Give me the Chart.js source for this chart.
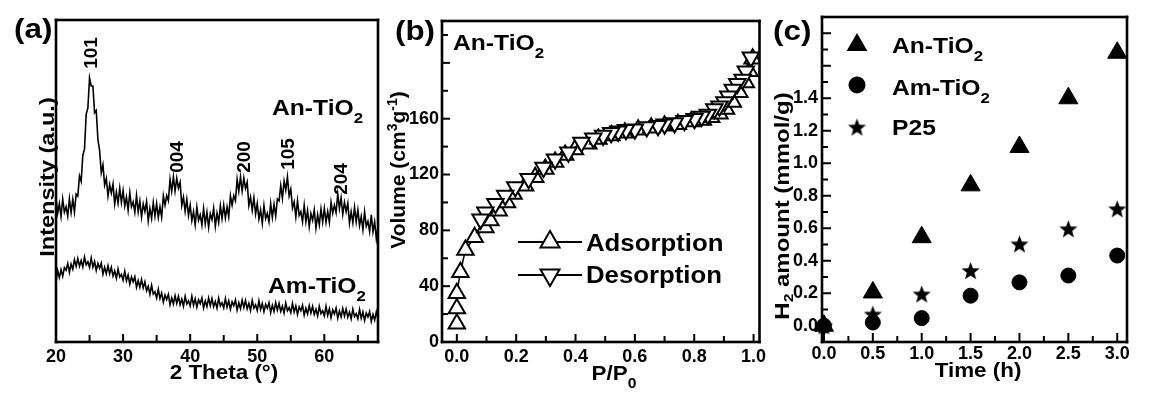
<!DOCTYPE html>
<html><head><meta charset="utf-8">
<script src="https://cdn.jsdelivr.net/npm/chart.js@4.4.0/dist/chart.umd.min.js"></script>
<style>
html,body{margin:0;padding:0;background:#fff;width:1152px;height:394px;overflow:hidden}
canvas{position:absolute;top:0}
#ca{left:0px}
#cb{left:384px}
#cc{left:771px}
</style></head><body>
<canvas id="ca" width="384" height="394"></canvas>
<canvas id="cb" width="387" height="394"></canvas>
<canvas id="cc" width="381" height="394"></canvas>
<script>
// ---------- DATA ----------
// (a) XRD, 2-theta in degrees
const theta = [20,20.25,20.5,20.75,21,21.25,21.5,21.75,22,22.25,22.5,22.75,23,23.25,23.5,23.75,24,24.25,24.5,24.75,
  25,25.25,25.5,25.75,26,26.25,26.5,26.75,27,27.25,27.5,27.75,28,28.25,28.5,28.75,29,29.25,29.5,29.75,
  30,30.25,30.5,30.75,31,31.25,31.5,31.75,32,32.25,32.5,32.75,33,33.25,33.5,33.75,34,34.25,34.5,34.75,
  35,35.25,35.5,35.75,36,36.25,36.5,36.75,37,37.25,37.5,37.75,38,38.25,38.5,38.75,39,39.25,39.5,39.75,
  40,40.25,40.5,40.75,41,41.25,41.5,41.75,42,42.25,42.5,42.75,43,43.25,43.5,43.75,44,44.25,44.5,44.75,
  45,45.25,45.5,45.75,46,46.25,46.5,46.75,47,47.25,47.5,47.75,48,48.25,48.5,48.75,49,49.25,49.5,49.75,
  50,50.25,50.5,50.75,51,51.25,51.5,51.75,52,52.25,52.5,52.75,53,53.25,53.5,53.75,54,54.25,54.5,54.75,
  55,55.25,55.5,55.75,56,56.25,56.5,56.75,57,57.25,57.5,57.75,58,58.25,58.5,58.75,59,59.25,59.5,59.75,
  60,60.25,60.5,60.75,61,61.25,61.5,61.75,62,62.25,62.5,62.75,63,63.25,63.5,63.75,64,64.25,64.5,64.75,
  65,65.25,65.5,65.75,66,66.25,66.5,66.75,67,67.25,67.5,67.75,68];
const anXRD = [44.5,40.0,43.0,39.0,44.4,40.3,42.0,39.1,44.5,40.2,44.3,40.4,45.9,45.3,51.6,49.9,58.0,59.9,70.8,72.6,
  82.0,79.5,79.5,71.2,71.9,62.8,59.5,52.6,55.0,48.7,50.8,45.3,48.9,46.3,49.1,42.9,46.5,43.1,47.8,43.3,
  47.0,42.2,45.0,40.9,46.4,42.0,43.5,40.3,45.5,40.4,43.8,38.8,42.9,40.5,43.6,37.6,41.5,38.4,43.3,39.1,
  43.0,38.7,42.0,38.8,45.4,42.5,45.5,43.9,50.5,46.8,51.3,46.9,50.9,47.8,49.6,42.4,45.0,40.6,44.3,39.3,
  42.5,37.7,40.5,36.4,41.9,37.8,39.5,36.3,41.5,36.7,40.3,35.6,39.9,38.0,41.6,35.9,40.0,37.1,42.3,38.3,
  42.5,38.5,42.0,38.9,45.4,42.5,45.5,43.9,50.5,46.8,51.3,46.9,50.9,47.7,49.6,42.4,45.0,40.9,44.8,39.8,
  43.0,38.2,41.0,36.9,42.4,38.3,40.0,37.3,43.0,38.7,42.8,39.1,44.4,43.8,48.6,44.6,50.0,47.2,51.3,45.4,
  47.5,41.6,43.5,38.9,43.9,39.3,40.5,37.3,42.5,37.4,40.8,35.8,39.9,37.8,41.1,35.4,39.5,36.4,41.3,37.3,
  41.5,37.2,40.5,37.2,43.4,40.0,42.5,40.2,46.0,41.4,44.8,39.7,43.4,40.5,43.1,36.9,40.5,37.1,41.8,37.3,
  41.0,36.2,39.0,34.9,40.4,36.0,37.5,34.3,39.5,34.2,37.3,32.1,35.9];
const amXRD = [18.7,22.2,20.0,22.5,20.4,23.1,22.3,24.4,21.6,24.2,22.6,25.6,23.5,25.9,23.5,25.3,23.3,26.4,24.0,24.9,
  23.2,26.1,23.2,25.0,22.2,24.4,22.9,24.5,21.1,23.2,21.2,23.7,21.2,23.2,20.5,22.1,19.8,22.7,20.2,21.0,
  19.2,22.0,19.0,20.8,18.0,20.2,18.7,20.3,17.0,19.1,17.0,19.4,16.8,18.7,15.9,17.3,14.8,17.6,14.9,15.6,
  13.7,16.4,13.5,15.2,12.4,14.6,13.2,14.8,11.6,13.7,11.8,14.4,12.0,14.2,11.6,13.3,11.1,14.2,11.8,12.8,
  11.2,14.2,11.4,13.4,10.8,13.1,11.9,13.7,10.6,12.8,11.0,13.7,11.3,13.5,11.0,12.6,10.5,13.6,11.2,12.2,
  10.6,13.5,10.8,12.8,10.2,12.5,11.3,13.1,9.9,12.2,10.4,13.0,10.7,12.9,10.3,12.0,9.8,12.9,10.5,11.5,
  9.8,12.8,10.1,12.0,9.4,11.7,10.5,12.2,9.1,11.4,9.5,12.2,9.9,12.0,9.5,11.1,9.0,12.1,9.7,10.7,
  9.1,12.0,9.3,11.2,8.6,10.9,9.7,11.4,8.3,10.5,8.7,11.3,9.0,11.1,8.6,10.2,8.1,11.1,8.8,9.7,
  8.1,11.1,8.3,10.3,7.6,10.0,8.7,10.5,7.4,9.6,7.8,10.4,8.1,10.2,7.7,9.3,7.2,10.2,7.9,8.8,
  7.2,10.1,7.4,9.3,6.7,9.0,7.8,9.5,6.4,8.6,6.8,9.4,7.1];
const peakLabels = ['101','004','200','105','204'];

// (b) N2 isotherm
const adsP = [0.0,0.0,0.0,0.012,0.029,0.06,0.096,0.113,0.141,0.169,0.191,0.23,0.264,0.298,0.331,0.365,0.398,0.443,0.477,0.521,0.566,0.611,0.655,0.70,0.745,0.79,0.829,0.857,0.885,0.907,0.93,0.952,0.974,0.986,0.997];
const adsV = [13,24,35,50,66,75,82,87,94,100,106,112,118,124,129,134,138,142,145.5,148,150,152,153.5,155,156,158,159,161,163.5,167,172,179,186,194,203];
const desP = [0.991,0.974,0.963,0.945,0.93,0.915,0.902,0.885,0.868,0.846,0.825,0.801,0.767,0.734,0.70,0.678,0.64,0.60,0.57,0.544,0.52,0.493,0.46,0.42,0.376,0.331,0.292,0.242,0.197,0.163,0.13,0.096,0.08];
const desV = [204,194,188,185,181,176,172,169,167,163,161.5,160,158.5,157,156,155,154,152.5,152,151,150,148,146,143,136,131,125,117,111,105,99,93,88];

// (c) H2 evolution
const timeH = [0,0.5,1.0,1.5,2.0,2.5,3.0];
const anH2 = [0.0,0.205,0.545,0.864,1.10,1.40,1.68];
const amH2 = [0.0,0.02,0.047,0.185,0.267,0.309,0.432];
const p25H2 = [0.0,0.072,0.196,0.34,0.504,0.597,0.72];

// tick values (labelled ticks, then tick-mark positions)
const aXTicks = [20,30,40,50,60], aXMinor = [25,35,45,55,65];
const bXTicks = [0,0.2,0.4,0.6,0.8,1.0], bXMinor = [0.1,0.3,0.5,0.7,0.9];
const bYTicks = [0,40,80,120,160], bYMarks = [0,40,80,120,160,200], bYMinor = [20,60,100,140,180,220];
const cXTicks = [0,0.5,1.0,1.5,2.0,2.5,3.0], cXMinor = [0.25,0.75,1.25,1.75,2.25,2.75];
const cYTicks = [0,0.2,0.4,0.6,0.8,1.0,1.2,1.4], cYMarks = [0,0.2,0.4,0.6,0.8,1.0,1.2,1.4,1.6,1.8], cYMinor = [0.1,0.3,0.5,0.7,0.9,1.1,1.3,1.5,1.7];

// ---------- HELPERS ----------
const FONT = '"Liberation Sans", Arial, Helvetica, sans-serif';
Chart.defaults.font.family = FONT;
Chart.defaults.font.weight = 'bold';
Chart.defaults.font.size = 18;
Chart.defaults.color = '#000';

function rich(ctx, x, y, parts, o) {
  o = o || {};
  const sx = o.sx == null ? 1.12 : o.sx;
  ctx.save();
  ctx.translate(x, y);
  if (o.rot) ctx.rotate(o.rot);
  ctx.scale(sx, 1);
  let W = 0;
  const ws = parts.map(p => { ctx.font = `bold ${p[1]}px ${FONT}`; const w = ctx.measureText(p[0]).width; W += w; return w; });
  let cx = o.align === 'center' ? -W / 2 : 0;
  const by = o.by || 0;
  ctx.fillStyle = '#000';
  ctx.textBaseline = 'alphabetic';
  ctx.textAlign = 'left';
  parts.forEach((p, i) => { ctx.font = `bold ${p[1]}px ${FONT}`; ctx.fillText(p[0], cx, by + (p[2] || 0)); cx += ws[i]; });
  ctx.restore();
}
function rotLabel(ctx, x, y, txt, size, sx) {
  rich(ctx, x, y, [[txt, size]], {rot: -Math.PI / 2, align: 'center', by: 0.36 * size, sx: sx});
}
function triPath(ctx, x, y, r, down) {
  const s = down ? -1 : 1;
  ctx.beginPath();
  ctx.moveTo(x, y - s * r);
  ctx.lineTo(x + r * Math.sin(2 * Math.PI / 3), y + s * r * 0.5);
  ctx.lineTo(x - r * Math.sin(2 * Math.PI / 3), y + s * r * 0.5);
  ctx.closePath();
}
function makeStar(R, r) {
  const c = document.createElement('canvas');
  const s = Math.ceil(2 * R + 2);
  c.width = c.height = s;
  const g = c.getContext('2d');
  g.translate(s / 2, s / 2 + R * 0.1);
  g.beginPath();
  for (let k = 0; k < 10; k++) {
    const rad = k % 2 ? r : R;
    const a = -Math.PI / 2 + k * Math.PI / 5;
    g.lineTo(rad * Math.cos(a), rad * Math.sin(a));
  }
  g.closePath();
  g.fillStyle = '#000';
  g.fill();
  return c;
}
const starImg = makeStar(9.5, 4);

// frame + inward tick marks, drawn as filled bars
function frameTicks(chart, t) {
  const ctx = chart.ctx, a = chart.chartArea, xs = chart.scales.x, ys = chart.scales.y;
  const w = 2.6, tw = 2;
  ctx.save();
  ctx.fillStyle = '#000';
  (t.xMaj || []).forEach(v => { const p = xs.getPixelForValue(v); ctx.fillRect(p - tw / 2, a.bottom - t.maj, tw, t.maj); });
  (t.xMin || []).forEach(v => { const p = xs.getPixelForValue(v); ctx.fillRect(p - tw / 2, a.bottom - t.mn, tw, t.mn); });
  (t.yMaj || []).forEach(v => { const p = ys.getPixelForValue(v); ctx.fillRect(a.left, p - tw / 2, t.maj, tw); });
  (t.yMin || []).forEach(v => { const p = ys.getPixelForValue(v); ctx.fillRect(a.left, p - tw / 2, t.mn, tw); });
  const W = a.right - a.left, H = a.bottom - a.top;
  ctx.fillRect(a.left - w / 2, a.top - w / 2, W + w, w);
  ctx.fillRect(a.left - w / 2, a.bottom - w / 2, W + w, w);
  ctx.fillRect(a.left - w / 2, a.top - w / 2, w, H + w);
  ctx.fillRect(a.right - w / 2, a.top - w / 2, w, H + w);
  ctx.restore();
}
function deco(off, tk, textFn) {
  return {
    id: 'deco',
    afterDraw(chart) {
      try { frameTicks(chart, tk); } catch (e) { /* ignore */ }
      const ctx = chart.ctx;
      ctx.save();
      ctx.translate(-off, 0);
      textFn(ctx);
      ctx.restore();
    }
  };
}
function xScale(min, max, vals, fmt, pad) {
  return {
    type: 'linear', position: 'bottom', min: min, max: max,
    grid: {display: false, drawTicks: false}, border: {display: false},
    ticks: {padding: pad, autoSkip: false, maxRotation: 0, minRotation: 0, callback: fmt, font: {size: 18, weight: 'bold'}},
    afterBuildTicks: s => { s.ticks = vals.map(v => ({value: v})); },
    afterFit: s => { s.height = 52; }
  };
}
function yScale(min, max, vals, fmt, pad, show) {
  return {
    type: 'linear', position: 'left', min: min, max: max, display: show,
    grid: {display: false, drawTicks: false}, border: {display: false},
    ticks: {padding: pad, autoSkip: false, callback: fmt, font: {size: 18, weight: 'bold'}},
    afterBuildTicks: s => { s.ticks = vals.map(v => ({value: v})); },
    afterFit: s => { s.width = show ? 42 : 0; }
  };
}
const pts = (xa, ya) => ya.map((v, i) => ({x: xa[i], y: v}));
function baseOpts() {
  return {responsive: false, animation: false, events: [], plugins: {legend: {display: false}, tooltip: {enabled: false}}};
}

// ---------- (a) : canvas at x = 0 ----------
new Chart(document.getElementById('ca'), {
  type: 'scatter',
  data: {datasets: [
    {data: pts(theta, anXRD), showLine: true, pointRadius: 0, borderColor: '#000', borderWidth: 1.6, tension: 0},
    {data: pts(theta, amXRD), showLine: true, pointRadius: 0, borderColor: '#000', borderWidth: 1.6, tension: 0}
  ]},
  options: Object.assign(baseOpts(), {
    layout: {padding: {left: 56, right: 6, top: 20, bottom: 0}},
    scales: {
      x: xScale(20, 68, aXTicks, v => String(v), 4),
      y: yScale(0, 100, [], v => '', 0, false)
    }
  }),
  plugins: [deco(0, {xMaj: aXTicks, xMin: aXMinor, maj: 8, mn: 7}, (ctx) => {
    rich(ctx, 14, 38, [['(a)', 28]]);
    rotLabel(ctx, 90, 53, peakLabels[0], 19, 1);
    rotLabel(ctx, 176, 157, peakLabels[1], 19, 1);
    rotLabel(ctx, 243, 157, peakLabels[2], 19, 1);
    rotLabel(ctx, 287, 154, peakLabels[3], 19, 1);
    rotLabel(ctx, 340, 179, peakLabels[4], 19, 1);
    rich(ctx, 272, 115, [['An-TiO', 22], ['2', 15, 8]]);
    rich(ctx, 268, 293, [['Am-TiO', 22], ['2', 15, 8]]);
    rich(ctx, 224, 379, [['2 Theta (°)', 20]], {align: 'center'});
    rotLabel(ctx, 46, 177, 'Intensity (a.u.)', 21, 1.12);
  })]
});

// ---------- (b) : canvas at x = 384 ----------
new Chart(document.getElementById('cb'), {
  type: 'scatter',
  data: {datasets: [
    {data: pts(adsP, adsV), showLine: true, borderColor: '#000', borderWidth: 1.5, pointStyle: 'triangle', pointRadius: 9.5, pointBorderWidth: 2, pointBorderColor: '#000', pointBackgroundColor: '#fff', order: 2},
    {data: pts(desP, desV), showLine: true, borderColor: '#000', borderWidth: 1.5, pointStyle: 'triangle', pointRotation: 180, pointRadius: 9.5, pointBorderWidth: 2, pointBorderColor: '#000', pointBackgroundColor: '#fff', order: 1}
  ]},
  options: Object.assign(baseOpts(), {
    layout: {padding: {left: 16, right: 9, top: 21, bottom: 0}},
    scales: {
      x: xScale(-0.05, 1.02, bXTicks, v => v.toFixed(1), 4),
      y: yScale(0, 230, bYTicks, v => String(v), 3, true)
    }
  }),
  plugins: [deco(384, {xMaj: bXTicks, xMin: bXMinor, yMaj: bYMarks, yMin: bYMinor, maj: 8, mn: 6}, (ctx) => {
    rich(ctx, 395, 40, [['(b)', 28]]);
    rich(ctx, 453, 50, [['An-TiO', 22], ['2', 15, 8]]);
    ctx.save();
    ctx.strokeStyle = '#000'; ctx.lineWidth = 2;
    [[242, false], [275, true]].forEach(r => {
      ctx.beginPath(); ctx.moveTo(518, r[0]); ctx.lineTo(582, r[0]); ctx.stroke();
      triPath(ctx, 550, r[0], 11, r[1]); ctx.fillStyle = '#fff'; ctx.fill(); ctx.stroke();
    });
    ctx.restore();
    rich(ctx, 586, 251, [['Adsorption', 23]]);
    rich(ctx, 586, 283, [['Desorption', 23]]);
    rich(ctx, 614, 380, [['P/P', 20], ['0', 14, 8]], {align: 'center'});
    rich(ctx, 397, 170, [['Volume (cm', 21], ['3', 14, -8], ['g', 21], ['-1', 14, -8], [')', 21]], {rot: -Math.PI / 2, align: 'center', by: 7.5, sx: 1});
  })]
});

// ---------- (c) : canvas at x = 771 ----------
new Chart(document.getElementById('cc'), {
  type: 'scatter',
  data: {datasets: [
    {data: pts(timeH, anH2), pointStyle: 'triangle', pointRadius: 11, pointBorderWidth: 1, pointBorderColor: '#000', pointBackgroundColor: '#000', clip: false},
    {data: pts(timeH, amH2), pointStyle: 'circle', pointRadius: 7.5, pointBorderWidth: 1, pointBorderColor: '#000', pointBackgroundColor: '#000', clip: false},
    {data: pts(timeH, p25H2), pointStyle: starImg, pointRadius: 9, clip: false}
  ]},
  options: Object.assign(baseOpts(), {
    layout: {padding: {left: 9, right: 25, top: 17, bottom: 0}},
    scales: {
      x: xScale(-0.02, 3.1, cXTicks, v => v.toFixed(1), 1),
      y: yScale(-0.1, 1.9, cYTicks, v => v.toFixed(1), 4, true)
    }
  }),
  plugins: [deco(771, {xMaj: cXTicks, xMin: cXMinor, yMaj: cYMarks, yMin: cYMinor, maj: 9, mn: 6}, (ctx) => {
    rich(ctx, 773, 40, [['(c)', 28]]);
    rich(ctx, 782, 206, [['H', 20], ['2', 13, 4], [' amount (mmol/g)', 20]], {rot: -Math.PI / 2, align: 'center', by: 7.2, sx: 1.2});
    rich(ctx, 978, 377, [['Time (h)', 20]], {align: 'center'});
    ctx.save();
    ctx.fillStyle = '#000';
    triPath(ctx, 857, 45, 12, false); ctx.fill();
    ctx.beginPath(); ctx.arc(857, 85, 8.5, 0, 2 * Math.PI); ctx.fill();
    ctx.drawImage(starImg, 857 - starImg.width / 2, 127 - starImg.height / 2);
    ctx.restore();
    rich(ctx, 892, 53, [['An-TiO', 22], ['2', 15, 8]]);
    rich(ctx, 892, 95, [['Am-TiO', 22], ['2', 15, 8]]);
    rich(ctx, 892, 135, [['P25', 22]]);
  })]
});
</script></body></html>
